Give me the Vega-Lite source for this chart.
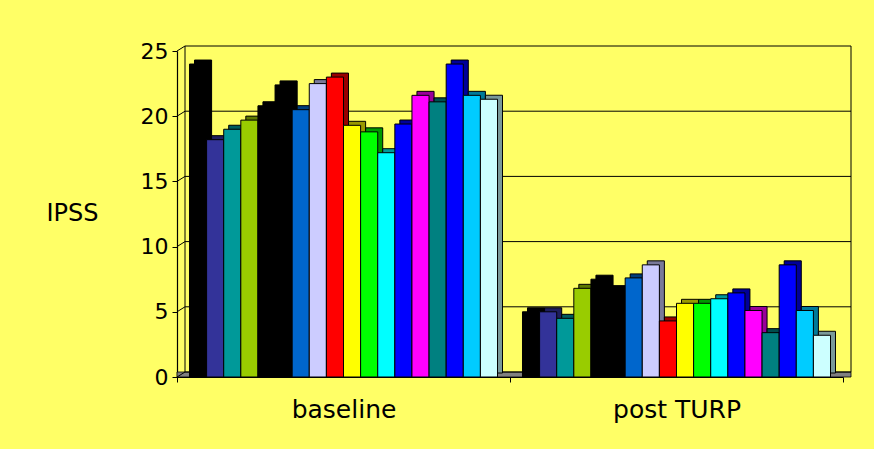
{
  "$schema": "https://vega.github.io/schema/vega-lite/v6.json",
  "width": 666,
  "height": 326,
  "autosize": "none",
  "padding": {"left": 177, "top": 51, "right": 31, "bottom": 72},
  "background": "#FFFF66",
  "config": {
    "view": {"stroke": null},
    "font": "DejaVu Sans",
    "axis": {"labelColor": "#000000", "titleColor": "#000000", "domainColor": "#000000", "tickColor": "#000000", "grid": false, "domainWidth": 1.2, "tickSize": 5},
    "axisY": {
      "tickCount": 5,
      "labelFontSize": 22,
      "labelPadding": 4,
      "titleAngle": 0,
      "titleFontSize": 24,
      "titleFontWeight": "normal",
      "titleAlign": "left",
      "titleBaseline": "middle",
      "titleX": -131,
      "titleY": 162
    }
  },
  "datasets": {
    "ipss": [
      {"group": "baseline", "s": 1, "ipss": 24.0},
      {"group": "baseline", "s": 2, "ipss": 18.2},
      {"group": "baseline", "s": 3, "ipss": 19.0},
      {"group": "baseline", "s": 4, "ipss": 19.7},
      {"group": "baseline", "s": 5, "ipss": 20.8},
      {"group": "baseline", "s": 6, "ipss": 22.4},
      {"group": "baseline", "s": 7, "ipss": 20.5},
      {"group": "baseline", "s": 8, "ipss": 22.5},
      {"group": "baseline", "s": 9, "ipss": 23.0},
      {"group": "baseline", "s": 10, "ipss": 19.3},
      {"group": "baseline", "s": 11, "ipss": 18.8},
      {"group": "baseline", "s": 12, "ipss": 17.2},
      {"group": "baseline", "s": 13, "ipss": 19.4},
      {"group": "baseline", "s": 14, "ipss": 21.6},
      {"group": "baseline", "s": 15, "ipss": 21.1},
      {"group": "baseline", "s": 16, "ipss": 24.0},
      {"group": "baseline", "s": 17, "ipss": 21.6},
      {"group": "baseline", "s": 18, "ipss": 21.3},
      {"group": "post TURP", "s": 1, "ipss": 5.0},
      {"group": "post TURP", "s": 2, "ipss": 5.0},
      {"group": "post TURP", "s": 3, "ipss": 4.5},
      {"group": "post TURP", "s": 4, "ipss": 6.8},
      {"group": "post TURP", "s": 5, "ipss": 7.5},
      {"group": "post TURP", "s": 6, "ipss": 6.7},
      {"group": "post TURP", "s": 7, "ipss": 7.6},
      {"group": "post TURP", "s": 8, "ipss": 8.6},
      {"group": "post TURP", "s": 9, "ipss": 4.3},
      {"group": "post TURP", "s": 10, "ipss": 5.65},
      {"group": "post TURP", "s": 11, "ipss": 5.65},
      {"group": "post TURP", "s": 12, "ipss": 6.0},
      {"group": "post TURP", "s": 13, "ipss": 6.45},
      {"group": "post TURP", "s": 14, "ipss": 5.1},
      {"group": "post TURP", "s": 15, "ipss": 3.4},
      {"group": "post TURP", "s": 16, "ipss": 8.6},
      {"group": "post TURP", "s": 17, "ipss": 5.1},
      {"group": "post TURP", "s": 18, "ipss": 3.2}
    ],
    "grid": [{"v": 0}, {"v": 5}, {"v": 10}, {"v": 15}, {"v": 20}, {"v": 25}],
    "walls": [{"edge": 0}, {"edge": 1}]
  },
  "layer": [
    {
      "description": "3D frame: floor, back wall gridlines and side-wall connectors",
      "layer": [
        {
          "data": {"values": [{"a": 0}]},
          "mark": {"type": "rect", "fill": "#808080", "stroke": "#000000", "strokeWidth": 0.8, "x2Offset": 8, "y2Offset": -5},
          "encoding": {
            "x": {"datum": 0, "type": "quantitative", "scale": {"domain": [0, 1]}, "axis": null},
            "x2": {"datum": 1},
            "y": {"datum": 0, "type": "quantitative", "title": "IPSS", "scale": {"domain": [0, 25], "nice": false}},
            "y2": {"datum": 0}
          }
        },
        {
          "data": {"name": "grid"},
          "mark": {"type": "rule", "color": "#000000", "strokeWidth": 1, "xOffset": 8, "x2Offset": 8, "yOffset": -5},
          "encoding": {
            "x": {"datum": 0, "type": "quantitative", "axis": null},
            "x2": {"datum": 1},
            "y": {"field": "v", "type": "quantitative", "title": "IPSS"}
          }
        },
        {
          "data": {"name": "grid"},
          "mark": {"type": "rule", "color": "#000000", "strokeWidth": 1, "x2Offset": 8, "y2Offset": -5},
          "encoding": {
            "x": {"datum": 0, "type": "quantitative", "axis": null},
            "x2": {"datum": 0},
            "y": {"field": "v", "type": "quantitative", "title": "IPSS"},
            "y2": {"field": "v"}
          }
        },
        {
          "data": {"name": "walls"},
          "mark": {"type": "rule", "color": "#000000", "strokeWidth": 1, "xOffset": 8, "yOffset": -5, "y2Offset": -5},
          "encoding": {
            "x": {"field": "edge", "type": "quantitative", "axis": null},
            "y": {"datum": 0, "type": "quantitative", "title": "IPSS"},
            "y2": {"datum": 25}
          }
        }
      ]
    },
    {
      "description": "Bars: a copy shifted back and up for the depth faces, then the front faces",
      "data": {"name": "ipss"},
      "layer": [
        {
          "encoding": {
            "x": {
              "field": "group",
              "type": "nominal",
              "sort": ["baseline", "post TURP"],
              "scale": {"paddingInner": 0, "paddingOuter": 0, "range": [5, 671]},
              "axis": null
            },
            "xOffset": {"field": "s", "type": "ordinal", "scale": {"paddingInner": 0, "paddingOuter": 0.73}},
            "y": {"field": "ipss", "type": "quantitative", "title": "IPSS"}
          },
          "layer": [
            {
              "mark": {"type": "bar", "yOffset": -4, "y2Offset": -4, "stroke": "#000000", "strokeWidth": 1},
              "encoding": {
                "color": {
                  "field": "s",
                  "type": "nominal",
                  "legend": null,
                  "scale": {
                    "domain": [1, 2, 3, 4, 5, 6, 7, 8, 9, 10, 11, 12, 13, 14, 15, 16, 17, 18],
                    "range": ["#000000", "#333399", "#009999", "#99CC00", "#000000", "#000000", "#0066CC", "#CCCCFF", "#FF0000", "#FFFF00", "#00FF00", "#00FFFF", "#0000FF", "#FF00FF", "#008080", "#0000FF", "#00CCFF", "#CCFFFF"]
                  }
                }
              }
            },
            {
              "mark": {"type": "bar", "yOffset": -4, "y2Offset": -4, "color": "#000000", "opacity": 0.4}
            }
          ]
        },
        {
          "mark": {"type": "bar", "stroke": "#000000", "strokeWidth": 1},
          "encoding": {
            "x": {
              "field": "group",
              "type": "nominal",
              "sort": ["baseline", "post TURP"],
              "scale": {"paddingInner": 0, "paddingOuter": 0},
              "axis": {
                "title": null,
                "labelAngle": 0,
                "labelFontSize": 25,
                "labelPadding": 15,
                "tickBand": "extent"
              }
            },
            "xOffset": {"field": "s", "type": "ordinal", "scale": {"paddingInner": 0, "paddingOuter": 0.73}},
            "y": {"field": "ipss", "type": "quantitative", "title": "IPSS"},
            "color": {"field": "s", "type": "nominal", "legend": null}
          }
        }
      ],
      "resolve": {"scale": {"x": "independent"}, "axis": {"x": "independent"}}
    }
  ],
  "resolve": {"scale": {"x": "independent"}, "axis": {"x": "independent"}}
}
